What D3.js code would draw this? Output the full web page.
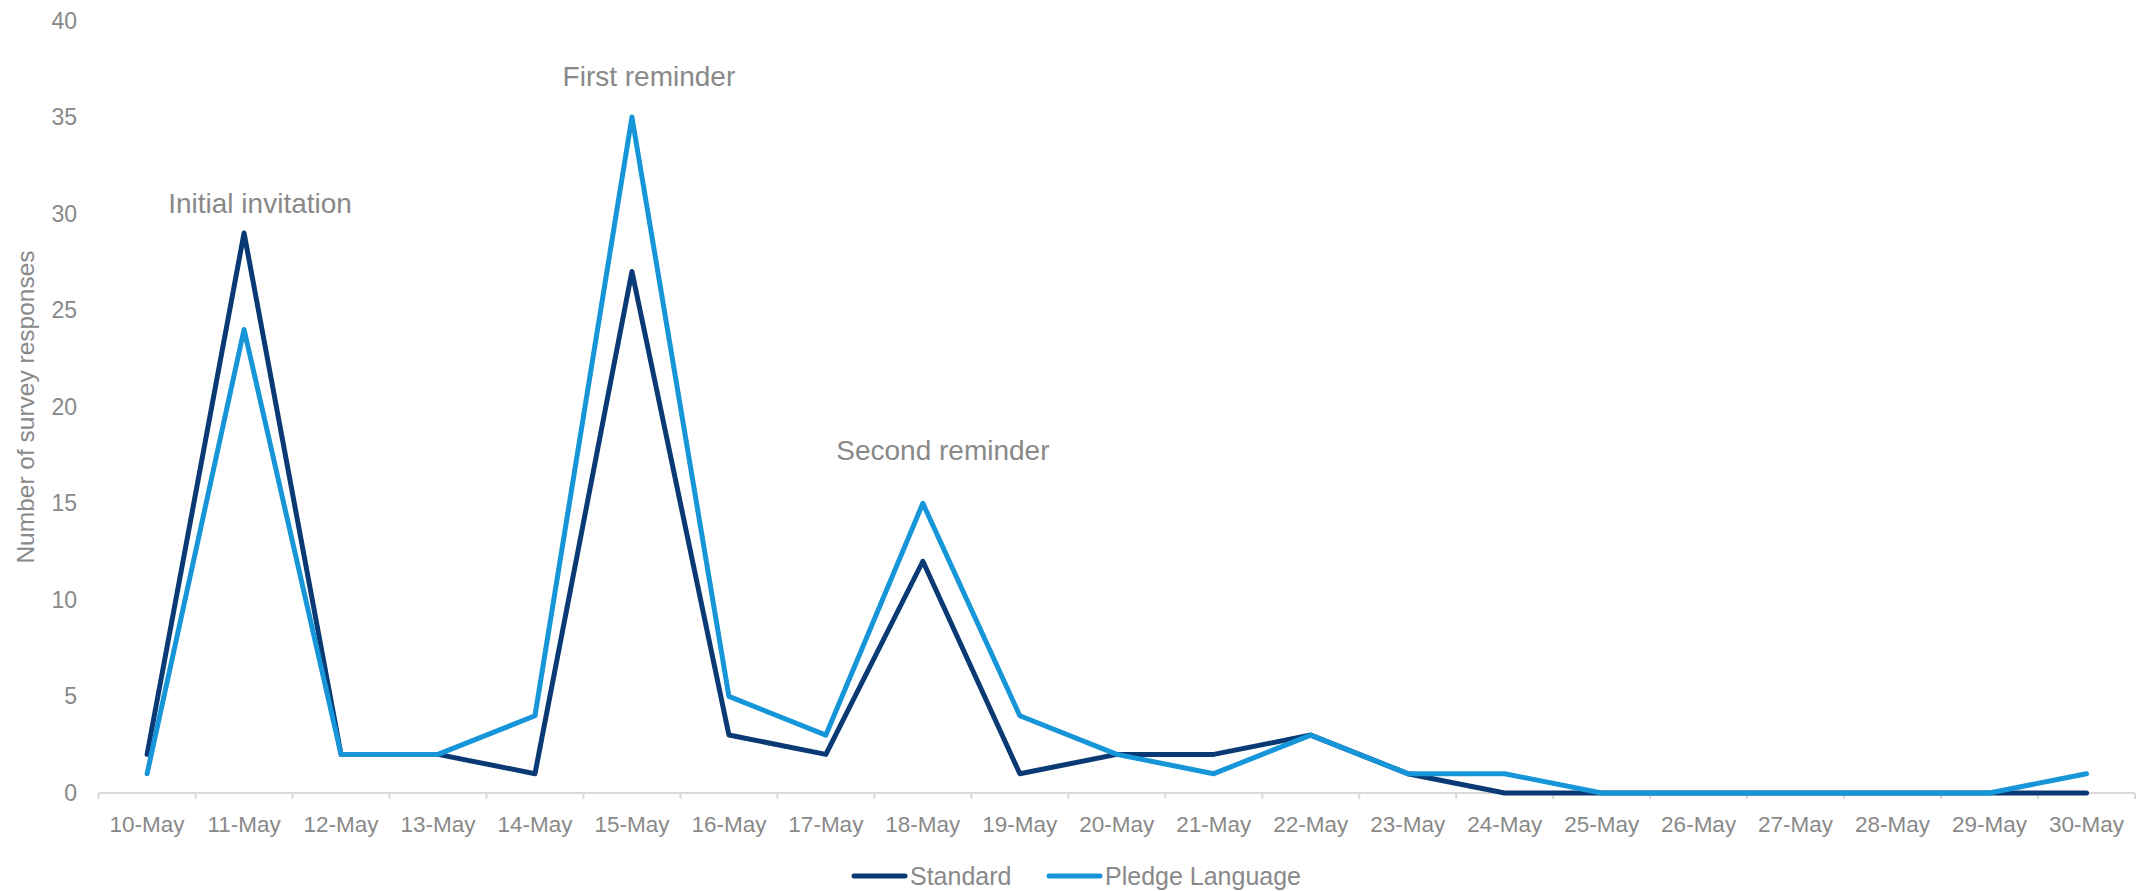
<!DOCTYPE html>
<html><head><meta charset="utf-8">
<script src="https://cdn.jsdelivr.net/npm/d3@7"></script>
<style>body{margin:0;background:#fff}svg{display:block}text{font-family:"Liberation Sans",Arial,sans-serif;fill:#898989}</style>
</head><body><svg id="c" width="2148" height="891"></svg>
<script>
const categories = ["10-May","11-May","12-May","13-May","14-May","15-May","16-May","17-May","18-May","19-May","20-May","21-May","22-May","23-May","24-May","25-May","26-May","27-May","28-May","29-May","30-May"];
const standard = [2,29,2,2,1,27,3,2,12,1,2,2,3,1,0,0,0,0,0,0,0];
const pledge   = [1,24,2,2,4,35,5,3,15,4,2,1,3,1,1,0,0,0,0,0,1];
const yTicks = [0,5,10,15,20,25,30,35,40];
const seriesNames = ["Standard","Pledge Language"];
const seriesColors = ["#0a3a74","#1696d9"];
const annotations = [
  {text:"Initial invitation", cat:"11-May", value:29},
  {text:"First reminder", cat:"15-May", value:35},
  {text:"Second reminder", cat:"18-May", value:15}
];
const annotOffsets = [{dx:16,dy:20},{dx:17,dy:31},{dx:20,dy:43}];

const svg = d3.select("#c");
const x = d3.scaleBand().domain(categories).range([98.6, 2135]);
const y = d3.scaleLinear().domain([0,40]).range([793, 20.5]);
const cx = d => x(d) + x.bandwidth()/2;

// x axis line + ticks
svg.append("line").attr("x1",x.range()[0]).attr("x2",x.range()[1]).attr("y1",y(0)).attr("y2",y(0))
  .attr("stroke","#d9d9d9").attr("stroke-width",2);
const edges = categories.map(c=>x(c)).concat([x.range()[1]]);
svg.selectAll(".tk").data(edges).join("line").attr("x1",d=>d).attr("x2",d=>d)
  .attr("y1",y(0)).attr("y2",y(0)+6).attr("stroke","#d9d9d9").attr("stroke-width",2);
svg.selectAll(".xl").data(categories).join("text").attr("x",cx).attr("y",832)
  .attr("text-anchor","middle").attr("font-size",22.5).text(d=>d);

// y tick labels
svg.selectAll(".yl").data(yTicks).join("text").attr("x",77).attr("y",d=>y(d)+8)
  .attr("text-anchor","end").attr("font-size",23).text(d=>d);
svg.append("text").attr("transform","translate(34,407) rotate(-90)").attr("text-anchor","middle")
  .attr("font-size",24.5).text("Number of survey responses");

// lines
const line = d3.line().x((d,i)=>cx(categories[i])).y(d=>y(d));
[standard,pledge].forEach((s,k)=>{
  svg.append("path").attr("d",line(s)).attr("fill","none").attr("stroke",seriesColors[k])
    .attr("stroke-width",5).attr("stroke-linejoin","round").attr("stroke-linecap","round");
});

// annotations
svg.selectAll(".an").data(annotations).join("text")
  .attr("x",(d,i)=>cx(d.cat)+annotOffsets[i].dx)
  .attr("y",(d,i)=>y(d.value)-annotOffsets[i].dy).attr("text-anchor","middle")
  .attr("font-size",28).text(d=>d.text);

// legend
const lg = [852,1047];
seriesNames.forEach((n,k)=>{
  svg.append("line").attr("x1",lg[k]+2).attr("x2",lg[k]+53).attr("y1",876).attr("y2",876)
    .attr("stroke",seriesColors[k]).attr("stroke-width",5).attr("stroke-linecap","round");
  svg.append("text").attr("x",lg[k]+58).attr("y",885).attr("font-size",25).text(n);
});
</script></body></html>
